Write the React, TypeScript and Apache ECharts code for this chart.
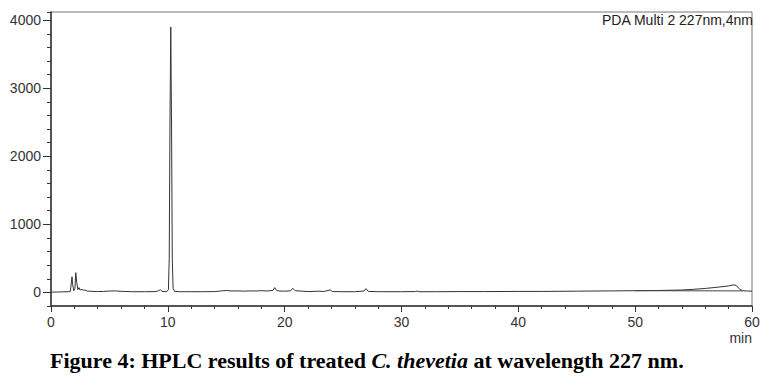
import React, { useEffect, useRef } from "react";
import * as echarts from "echarts";

// Retention time (min) and detector response (mAU)
const times = [
  0, 0.5, 1.0, 1.5, 1.65, 1.75, 1.8, 1.85, 1.95, 2.05, 2.12, 2.2, 2.3, 2.4, 2.5, 2.65, 2.75, 2.9, 3.1, 3.5,
  4.0, 4.5, 5.0, 5.5, 6.0, 7.0, 8.0, 9.0, 9.2, 9.35, 9.5, 9.9, 10.05, 10.12, 10.18, 10.25, 10.32, 10.38,
  10.45, 10.58, 11, 12, 13, 14, 14.5, 15.0, 15.5, 16, 16.5, 17, 17.5, 18, 18.5, 19.0, 19.15, 19.3, 19.5,
  20, 20.5, 20.7, 20.9, 21.5, 22, 23, 23.3, 23.9, 24.1, 25, 26, 26.8, 26.95, 27.15, 28, 30, 31.2, 31.35,
  31.5, 33, 35, 37, 40, 42, 45, 48, 50, 52, 54, 55, 56, 57, 58, 58.45, 58.7, 58.95, 59.2, 59.6, 60,
];
const responses = [
  5, 5, 8, 10, 12, 150, 230, 120, 25, 60, 290, 150, 40, 70, 35, 45, 30, 35, 20, 15,
  12, 14, 20, 22, 15, 10, 10, 12, 25, 40, 15, 10, 40, 500, 2400, 3900, 2400, 500,
  60, 15, 10, 10, 10, 12, 20, 28, 20, 22, 18, 22, 20, 25, 20, 30, 70, 30, 20,
  18, 22, 60, 25, 18, 12, 18, 12, 35, 12, 10, 10, 20, 55, 15, 10, 10, 12, 20,
  10, 10, 12, 12, 14, 14, 18, 22, 25, 28, 35, 45, 58, 75, 95, 112, 95, 45, 25, 20, 18,
];
// integration baseline under the gradient drift at the end of the run
const baselineTimes = [50, 59.2];
const baselineValues = [25, 22];

const yMajorTicks = [0, 1000, 2000, 3000, 4000];
const xMin = 0;
const xMax = 60;
const yMin = -200;
const yMax = 4120;

export default function App() {
  const ref = useRef<HTMLDivElement>(null);
  useEffect(() => {
    if (!ref.current) return;
    const chart = echarts.init(ref.current, null, { renderer: "svg" });
    const trace = times.map((t, i) => [t, responses[i]]);
    const base = baselineTimes.map((t, i) => [t, baselineValues[i]]);
    const font = "'Liberation Sans', Arial, sans-serif";
    const serif = "'Liberation Serif', 'Times New Roman', serif";
    chart.setOption({
      animation: false,
      grid: {
        left: 51,
        right: 12,
        top: 12,
        bottom: 83,
        show: true,
        borderColor: "#777",
        borderWidth: 1,
        backgroundColor: "transparent",
      },
      xAxis: {
        type: "value",
        min: xMin,
        max: xMax,
        interval: 10,
        axisLine: { show: true, onZero: false, lineStyle: { color: "#333", width: 1.5 } },
        axisTick: { show: true, length: 6, lineStyle: { color: "#333" } },
        minorTick: { show: true, splitNumber: 5, length: 3, lineStyle: { color: "#333" } },
        splitLine: { show: false },
        axisLabel: { color: "#333", fontSize: 14, fontFamily: font, margin: 9, formatter: (v: number) => String(v) },
      },
      yAxis: [
        {
          type: "value",
          min: yMin,
          max: yMax,
          interval: 200,
          axisLine: { show: true, onZero: false, lineStyle: { color: "#333", width: 1.5 } },
          axisTick: { show: true, length: 4, lineStyle: { color: "#333" } },
          splitLine: { show: false },
          axisLabel: { show: false },
        },
        {
          type: "value",
          min: yMin,
          max: yMax,
          position: "left",
          axisLine: { show: false },
          axisTick: { show: true, length: 8, lineStyle: { color: "#333" }, customValues: yMajorTicks },
          splitLine: { show: false },
          axisLabel: {
            show: true,
            color: "#333",
            fontSize: 14,
            fontFamily: font,
            margin: 10,
            customValues: yMajorTicks,
            formatter: (v: number) => String(v),
          },
        },
      ],
      series: [
        {
          type: "line",
          data: trace,
          yAxisIndex: 0,
          showSymbol: false,
          symbol: "none",
          lineStyle: { color: "#333", width: 1 },
        },
        {
          type: "line",
          data: base,
          yAxisIndex: 0,
          showSymbol: false,
          symbol: "none",
          lineStyle: { color: "#444", width: 1 },
        },
      ],
      graphic: [
        {
          type: "text",
          right: 11,
          top: 13,
          style: { text: "PDA Multi 2 227nm,4nm", fill: "#222", font: `14px ${font}`, textAlign: "right" },
        },
        {
          type: "text",
          right: 12,
          top: 331,
          style: { text: "min", fill: "#333", font: `14px ${font}` },
        },
        {
          type: "text",
          left: 50,
          top: 349,
          style: {
            text: "{b|Figure 4: HPLC results of treated }{i|C. thevetia}{b| at wavelength 227 nm.}",
            rich: {
              b: { fontFamily: serif, fontWeight: "bold", fontSize: 22, fill: "#000" },
              i: { fontFamily: serif, fontWeight: "bold", fontStyle: "italic", fontSize: 22, fill: "#000" },
            },
          },
        },
      ],
    });
    return () => chart.dispose();
  }, []);
  return <div ref={ref} style={{ width: 764, height: 389, position: "absolute", left: 0, top: 0 }} />;
}
